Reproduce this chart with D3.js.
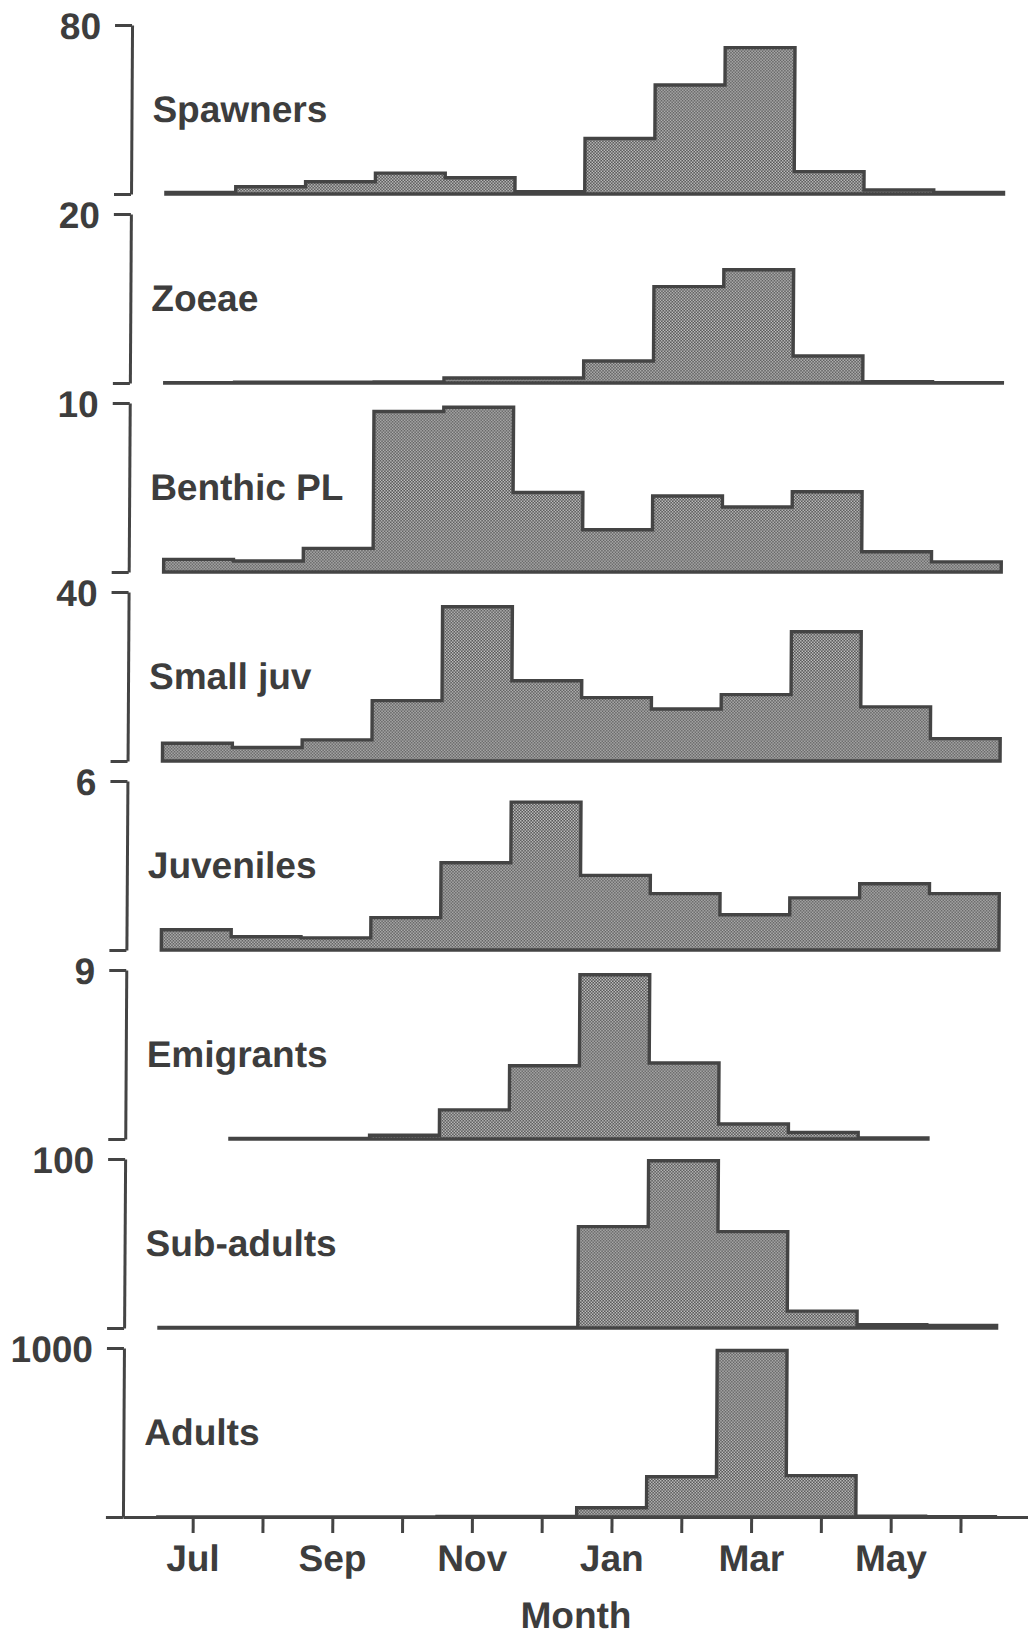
<!DOCTYPE html>
<html>
<head>
<meta charset="utf-8">
<script src="https://cdn.jsdelivr.net/npm/d3@7"></script>
<style>
  html, body { margin: 0; padding: 0; background: #fff; }
  svg text { font-family: "Liberation Sans", Arial, Helvetica, sans-serif; font-weight: bold; fill: #3d3d3d; }
</style>
</head>
<body>
<script>
// ---------------- DATA ----------------
const stages = ["Spawners", "Zoeae", "Benthic PL", "Small juv", "Juveniles", "Emigrants", "Sub-adults", "Adults"];
const yMaxLabels = [80, 20, 10, 40, 6, 9, 100, 1000];
const binMonths = ["Jul", "Aug", "Sep", "Oct", "Nov", "Dec", "Jan", "Feb", "Mar", "Apr", "May", "Jun"];
const axisMonths = ["Jun", "Jul", "Aug", "Sep", "Oct", "Nov", "Dec", "Jan", "Feb", "Mar", "Apr", "May", "Jun"];
const labelledMonths = ["Jul", "Sep", "Nov", "Jan", "Mar", "May"];

const spawners   = [0.7, 3.4, 5.8, 9.9, 7.7, 1.1, 26.3, 51.6, 69.3, 10.6, 1.9, 0.7];
const zoeae      = [0.05, 0.08, 0.08, 0.12, 0.6, 0.6, 2.6, 11.4, 13.4, 3.2, 0.15, 0.05];
const benthicPL  = [0.75, 0.65, 1.4, 9.5, 9.75, 4.7, 2.5, 4.5, 3.85, 4.75, 1.2, 0.6];
const smallJuv   = [4.2, 3.2, 5.0, 14.3, 36.5, 19.0, 15.0, 12.3, 15.7, 30.6, 12.8, 5.3];
const juveniles  = [0.72, 0.47, 0.43, 1.15, 3.1, 5.25, 2.65, 2.0, 1.25, 1.85, 2.35, 2.0];
const emigrants  = [null, 0.03, 0.03, 0.2, 1.55, 3.9, 8.75, 4.05, 0.8, 0.35, 0.05, null];
const subAdults  = [0.3, 0.3, 0.3, 0.3, 0.3, 0.3, 60, 99, 57, 10, 2, 1.5];
const adults     = [1, 1, 1, 1, 3, 3, 55, 238, 985, 245, 4, 2];

const series = [spawners, zoeae, benthicPL, smallJuv, juveniles, emigrants, subAdults, adults];

// ---------------- LAYOUT ----------------
const W = 1028, H = 1638;
const ink = "#444";
const top0 = 25, step = 189, ph = 169;
const axisX = 132.2, monthW = 69.8;
const fs = 37;

const svg = d3.select("body").append("svg").attr("width", W).attr("height", H);

const defs = svg.append("defs");
const pat = defs.append("pattern").attr("id", "stip")
  .attr("patternUnits", "userSpaceOnUse").attr("width", 3).attr("height", 3);
pat.append("rect").attr("width", 3).attr("height", 3).attr("fill", "#585858");
pat.append("rect").attr("x", 0.15).attr("y", 0.15).attr("width", 1.25).attr("height", 1.25).attr("fill", "#e2e2e2");
pat.append("rect").attr("x", 1.65).attr("y", 1.65).attr("width", 1.25).attr("height", 1.25).attr("fill", "#e2e2e2");

// the scanned figure is slightly sheared
const root = svg.append("g").attr("transform", "skewX(-0.35)");

// month position: 0 = Jun (axis), 1 = Jul ... 12 = Jun
const x = d3.scaleLinear().domain([0, 13]).range([axisX, axisX + monthW * 13]);

series.forEach((vals, i) => {
  const g = root.append("g").attr("transform", `translate(0,${top0 + step * i})`);
  const y = d3.scaleLinear().domain([0, yMaxLabels[i]]).range([ph, 0]);

  const pts = [];
  vals.forEach((v, j) => {
    if (v == null) return;
    const m = axisMonths.indexOf(binMonths[j], 1);
    pts.push([m - 0.5, v], [m + 0.5, v]);
  });
  const area = d3.area().x(d => x(d[0])).y0(y(0)).y1(d => y(d[1]));
  g.append("path")
    .attr("d", area(pts))
    .attr("fill", "url(#stip)")
    .attr("stroke", ink)
    .attr("stroke-width", 3.4)
    .attr("stroke-linejoin", "miter");

  const ya = g.append("g").attr("transform", `translate(${x(0)},0)`)
    .call(d3.axisLeft(y).tickValues([0, yMaxLabels[i]]).tickSize(17).tickSizeOuter(0)
      .tickPadding(14).tickFormat(d => d === 0 ? "" : d));
  ya.select(".domain").attr("stroke", ink).attr("stroke-width", 3);
  ya.selectAll(".tick line").attr("stroke", ink).attr("stroke-width", 3);
  ya.selectAll(".tick text").attr("font-size", fs).attr("fill", "#3d3d3d")
    .attr("dy", "0.36em");

  g.append("text")
    .attr("x", x(0) + 21)
    .attr("y", 97)
    .attr("font-size", fs)
    .text(stages[i]);
});

// bottom month axis
const baseY = top0 + step * 7 + ph;
const xa = root.append("g").attr("transform", `translate(0,${baseY})`)
  .call(d3.axisBottom(x).tickValues(d3.range(1, 13)).tickSize(16).tickSizeOuter(0).tickPadding(12)
    .tickFormat(d => labelledMonths.includes(axisMonths[d]) ? axisMonths[d] : ""));
xa.select(".domain").attr("stroke", ink).attr("stroke-width", 3);
xa.selectAll(".tick line").attr("stroke", ink).attr("stroke-width", 3);
xa.selectAll(".tick text").attr("font-size", fs).attr("fill", "#3d3d3d");

root.append("text")
  .attr("x", x(6.5))
  .attr("y", 1628)
  .attr("text-anchor", "middle")
  .attr("font-size", fs)
  .text("Month");
</script>
</body>
</html>
